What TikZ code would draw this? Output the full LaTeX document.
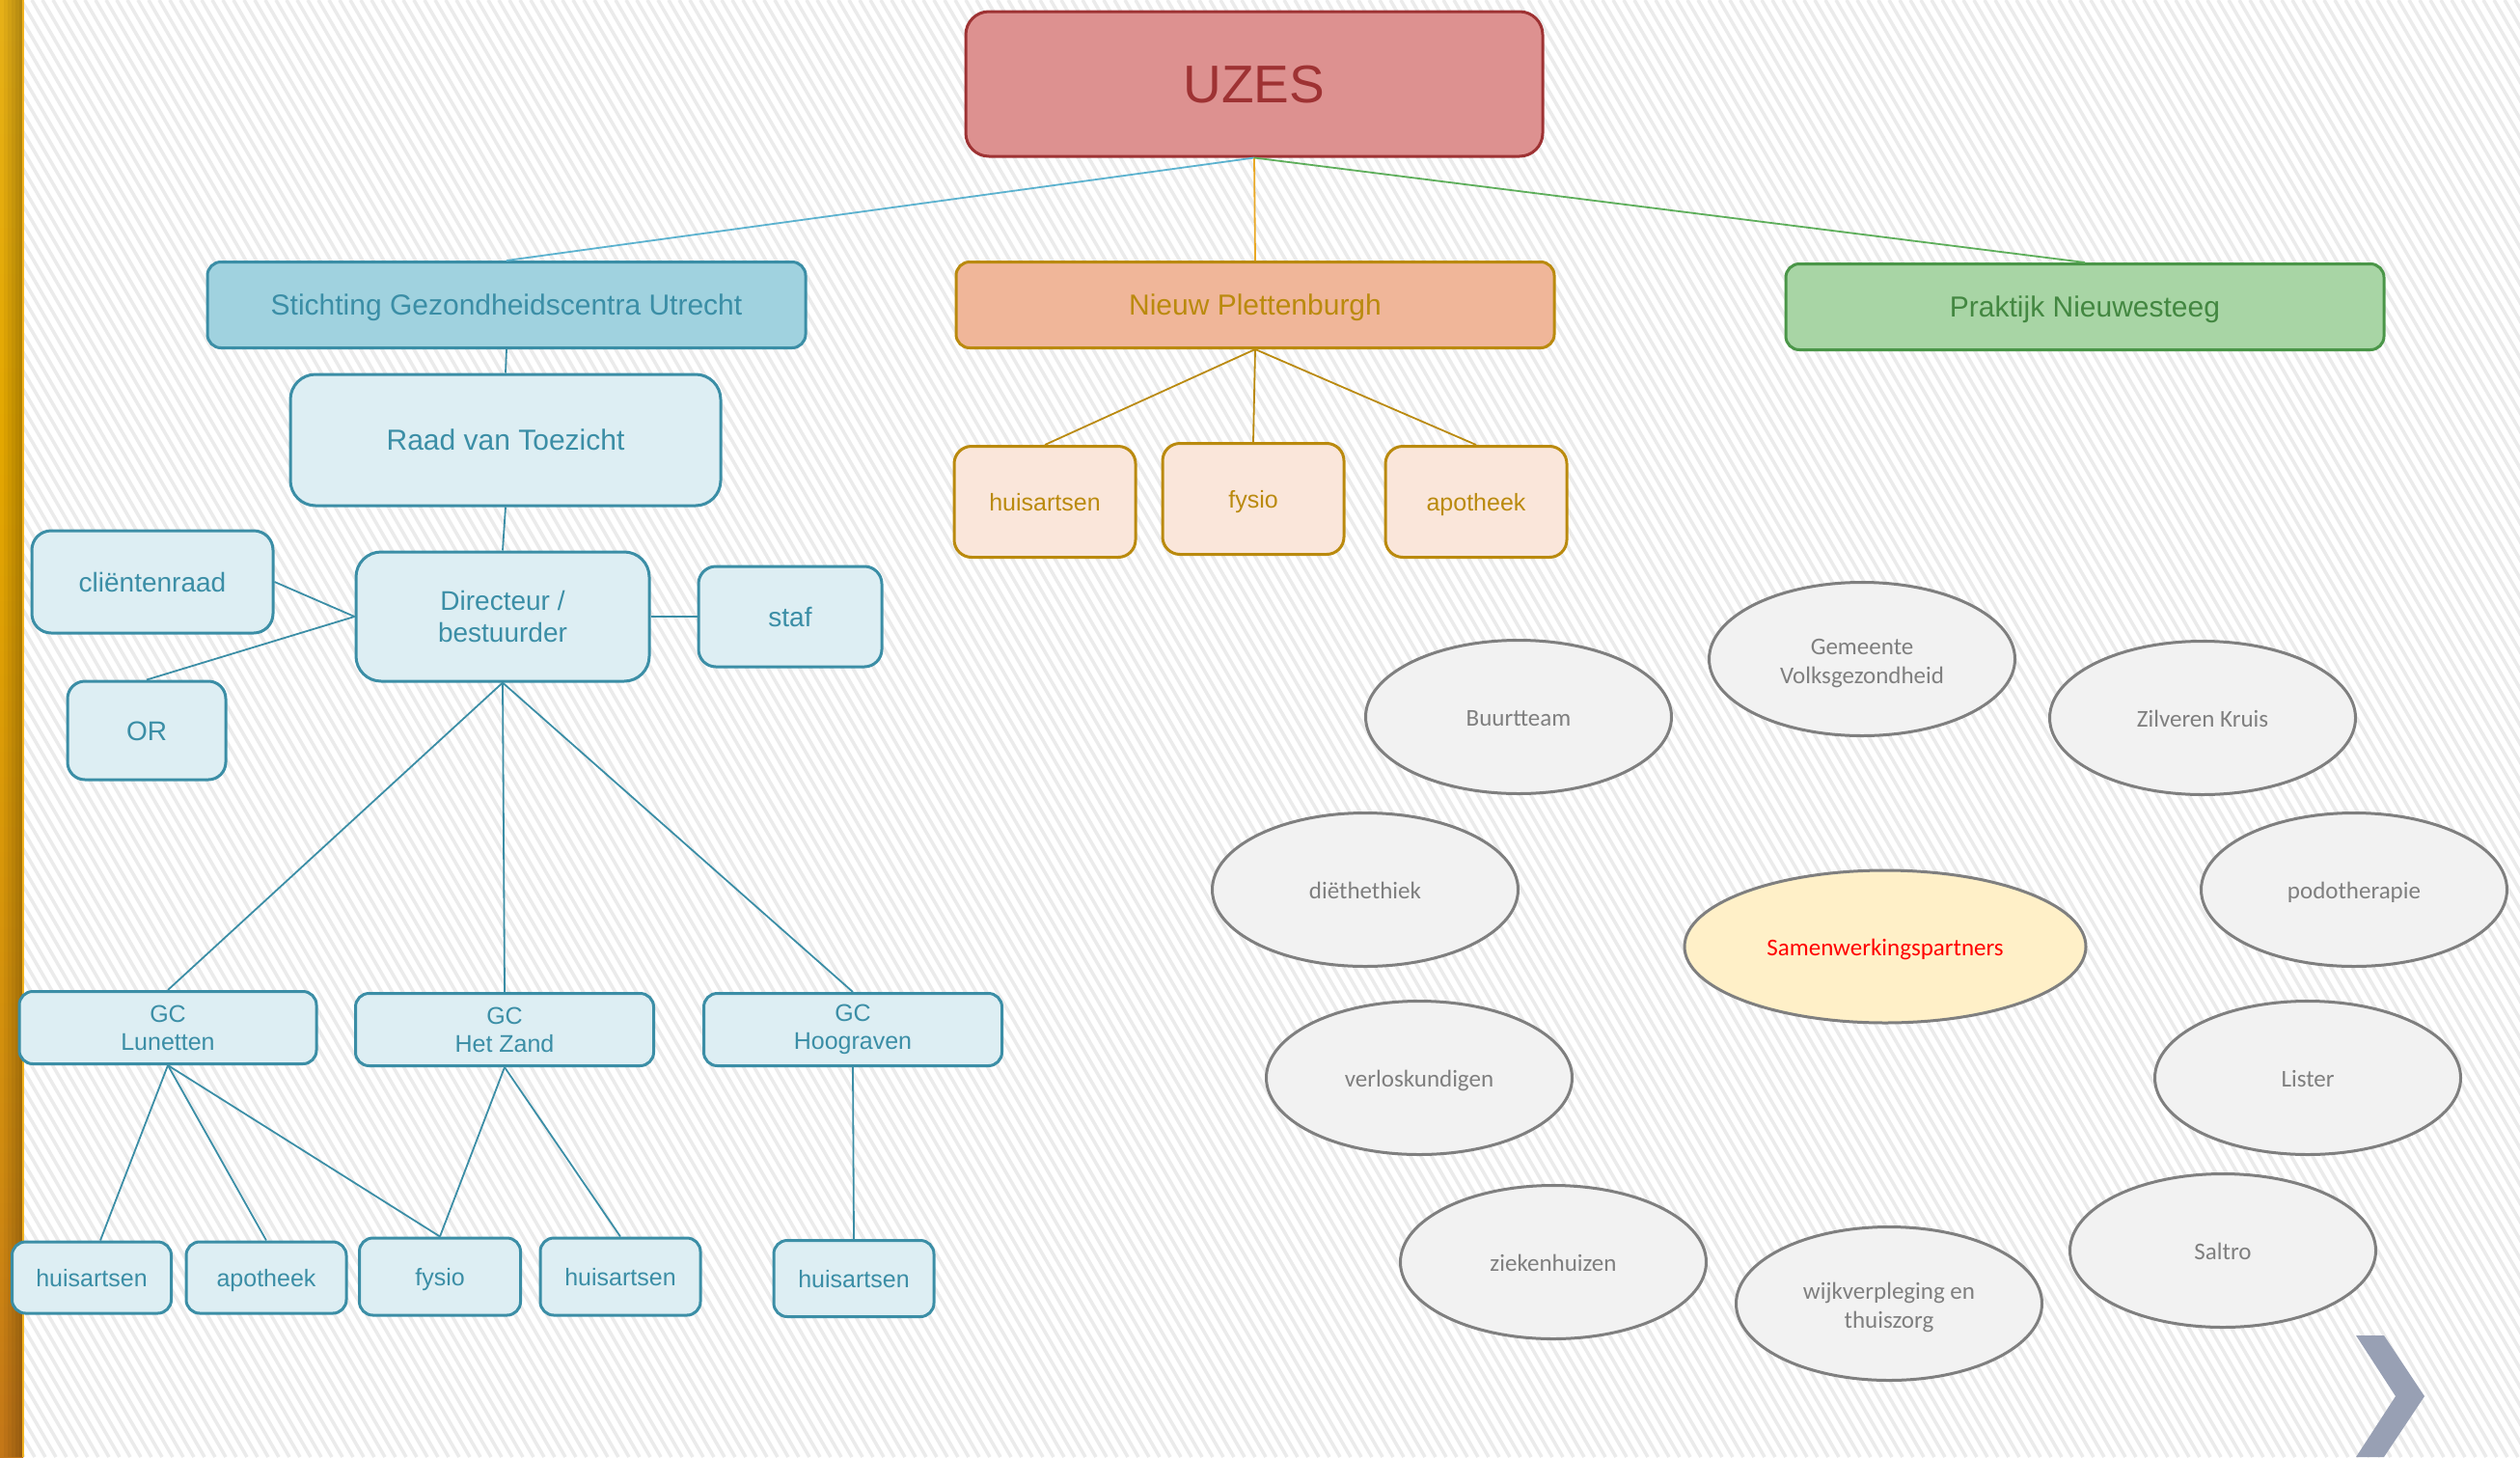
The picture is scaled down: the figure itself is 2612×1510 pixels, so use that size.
\documentclass[tikz,border=0pt]{standalone}
\usepackage{fontspec}
\setmainfont{Liberation Sans}
\newfontfamily\calibri{Carlito}
\usetikzlibrary{shapes.geometric}

\definecolor{uzesfill}{HTML}{DD9190}
\definecolor{uzesline}{HTML}{9E3233}
\definecolor{sgcfill}{HTML}{A0D2DF}
\definecolor{sgclight}{HTML}{DDEEF3}
\definecolor{sgcline}{HTML}{3B8EA6}
\definecolor{npfill}{HTML}{F0B699}
\definecolor{nplight}{HTML}{FAE6DA}
\definecolor{npline}{HTML}{BA8A0E}
\definecolor{pnfill}{HTML}{A8D5A5}
\definecolor{pnline}{HTML}{4A9648}
\definecolor{partfill}{HTML}{F2F2F2}
\definecolor{partline}{HTML}{7F7F7F}
\definecolor{hubfill}{HTML}{FFF0C8}
\definecolor{stripegray}{HTML}{EBEBEB}
\definecolor{chevgray}{HTML}{98A0B4}
\definecolor{linkblue}{HTML}{5BB2CF}
\definecolor{linkgold}{HTML}{E9A825}
\definecolor{linkgreen}{HTML}{5DAE5A}
\definecolor{bartop}{HTML}{ECC040}
\definecolor{barmid}{HTML}{E3A700}
\definecolor{barlow}{HTML}{CF8A10}
\definecolor{barbot}{HTML}{A6452A}
\definecolor{baredge}{HTML}{F2B21E}

\pgfdeclareverticalshading{sidebar}{100bp}{color(0bp)=(barbot); color(35bp)=(barlow);
  color(60bp)=(barmid); color(100bp)=(bartop)}

\tikzset{
  box/.style={draw, rounded corners=14pt, line width=3pt, align=center, inner sep=0pt},
  big/.style={font=\fontsize{30}{36}\selectfont, text height=27.6pt, text depth=6pt},
  mid/.style={font=\fontsize{28}{33}\selectfont},
  midone/.style={mid, text height=25.8pt, text depth=5.6pt},
  small/.style={font=\fontsize{25}{29}\selectfont},
  smallone/.style={small, text height=23pt, text depth=5pt},
  uzesbox/.style={box, rounded corners=24pt, draw=uzesline, fill=uzesfill, text=uzesline,
    minimum width=598pt, minimum height=150pt, font=\fontsize{55}{60}\selectfont,
    text height=50.6pt, text depth=11pt},
  sgcbox/.style={box, draw=sgcline, fill=sgcfill, text=sgcline, big,
    minimum width=620pt, minimum height=89pt},
  bluebox/.style={box, draw=sgcline, fill=sgclight, text=sgcline},
  npbox/.style={box, draw=npline, fill=npfill, text=npline, big,
    minimum width=620pt, minimum height=89pt},
  nplightbox/.style={box, rounded corners=18pt, draw=npline, fill=nplight, text=npline, smallone,
    minimum width=188pt, minimum height=115pt},
  pnbox/.style={box, draw=pnline, fill=pnfill, text=pnline!90!black, big,
    minimum width=620pt, minimum height=89pt},
  partner/.style={ellipse, draw=partline, fill=partfill, line width=3pt, align=center,
    text=partline, inner sep=0pt, minimum width=317pt, minimum height=159pt,
    font=\calibri\fontsize{25}{30}\selectfont, text height=23pt, text depth=5pt},
  twoline/.style={text height=55pt, text depth=4pt},
  hub/.style={partner, fill=hubfill, text=red, minimum width=416pt, minimum height=158pt},
  link/.style={line width=1.8pt},
  stripe/.style={draw=stripegray, line width=3.5pt},
}

\begin{document}
\begin{tikzpicture}[x=1pt,y=-1pt]
  \useasboundingbox (0,0) rectangle (2612,1510);
  % background
  \begin{scope}
    \clip (0,0) rectangle (2612,1510);
    \fill[white] (0,0) rectangle (2612,1510);
    \foreach \i in {-880,-869,...,2620}
      \draw[stripe] (\i,0) -- ++(872,1510);
  \end{scope}
  \shade[shading=sidebar] (0,0) rectangle (24,1510);
  \foreach \i in {1,...,5}
    \fill[black, opacity=0.045*\i] (4*\i,0) rectangle (4*\i+4,1510);
  \fill[baredge] (23,0) rectangle (25,1510);
  \fill[chevgray] (2442,1384) -- (2471,1384) -- (2513,1447) -- (2471,1510)
    -- (2442,1510) -- (2483,1447) -- cycle;

  % top level
  \draw
    (1300,87) node[uzesbox] (uzes){UZES}
    (525,316) node[sgcbox] (sgu){Stichting Gezondheidscentra Utrecht}
    (1301,316) node[npbox] (np){Nieuw Plettenburgh}
    (2161,318) node[pnbox] (pn){Praktijk Nieuwesteeg};

  % stichting
  \draw
    (524,456) node[bluebox, big, rounded corners=26pt, minimum width=446pt, minimum height=136pt] (rvt){Raad van Toezicht}
    (158,603) node[bluebox, midone, rounded corners=20pt, minimum width=250pt, minimum height=106pt] (cr){cliëntenraad}
    (521,639) node[bluebox, mid, rounded corners=26pt, minimum width=304pt, minimum height=134pt] (dir){Directeur /\\bestuurder}
    (819,639) node[bluebox, midone, rounded corners=18pt, minimum width=190pt, minimum height=104pt] (staf){staf}
    (152,757) node[bluebox, midone, rounded corners=18pt, minimum width=164pt, minimum height=102pt] (or){OR}
    (174,1065) node[bluebox, small, minimum width=308pt, minimum height=75pt] (gcl){GC\\Lunetten}
    (523,1067) node[bluebox, small, minimum width=309pt, minimum height=75pt] (gch){GC\\Het Zand}
    (884,1067) node[bluebox, small, minimum width=309pt, minimum height=75pt] (gcg){GC\\Hoograven}
    (95,1324) node[bluebox, smallone, minimum width=165pt, minimum height=74pt] (ha1){huisartsen}
    (276,1324) node[bluebox, smallone, minimum width=166pt, minimum height=74pt] (ap1){apotheek}
    (456,1323) node[bluebox, smallone, minimum width=167pt, minimum height=80pt] (fy1){fysio}
    (643,1323) node[bluebox, smallone, minimum width=166pt, minimum height=80pt] (ha2){huisartsen}
    (885,1325) node[bluebox, smallone, minimum width=166pt, minimum height=79pt] (ha3){huisartsen};

  % nieuw plettenburgh
  \draw
    (1083,520) node[nplightbox] (np1){huisartsen}
    (1299,517) node[nplightbox] (np2){fysio}
    (1530,520) node[nplightbox] (np3){apotheek};

  % partners
  \draw
    (1954,981) node[hub] (sp){Samenwerkingspartners}
    (1930,683) node[partner, twoline] (ggd){Gemeente\\Volksgezondheid}
    (1574,743) node[partner] (bt){Buurtteam}
    (2283,744) node[partner] (zk){Zilveren Kruis}
    (1415,922) node[partner] (di){diëthethiek}
    (2440,922) node[partner] (po){podotherapie}
    (1471,1117) node[partner] (vk){verloskundigen}
    (2392,1117) node[partner] (li){Lister}
    (1610,1308) node[partner] (zh){ziekenhuizen}
    (1958,1351) node[partner, twoline] (wv){wijkverpleging en\\thuiszorg}
    (2304,1296) node[partner] (sa){Saltro};

  \begin{scope}[link]
    \draw[linkblue] (uzes.south) to (sgu.north);
    \draw[linkgold] (uzes.south) to (np.north);
    \draw[linkgreen] (uzes.south) to (pn.north);
    \draw[npline] (np.south) to (np1.north);
    \draw[npline] (np.south) to (np2.north);
    \draw[npline] (np.south) to (np3.north);
    \draw[sgcline] (sgu.south) to (rvt.north);
    \draw[sgcline] (rvt.south) to (dir.north);
    \draw[sgcline] (cr.east) to (dir.west);
    \draw[sgcline] (or.north) to (dir.west);
    \draw[sgcline] (dir.east) to (staf.west);
    \draw[sgcline] (dir.south) to (gcl.north);
    \draw[sgcline] (dir.south) to (gch.north);
    \draw[sgcline] (dir.south) to (gcg.north);
    \draw[sgcline] (gcl.south) to ([xshift=9pt]ha1.north);
    \draw[sgcline] (gcl.south) to (ap1.north);
    \draw[sgcline] (gcl.south) to (fy1.north);
    \draw[sgcline] (gch.south) to (fy1.north);
    \draw[sgcline] (gch.south) to (ha2.north);
    \draw[sgcline] (gcg.south) to (ha3.north);
  \end{scope}
\end{tikzpicture}
\end{document}
